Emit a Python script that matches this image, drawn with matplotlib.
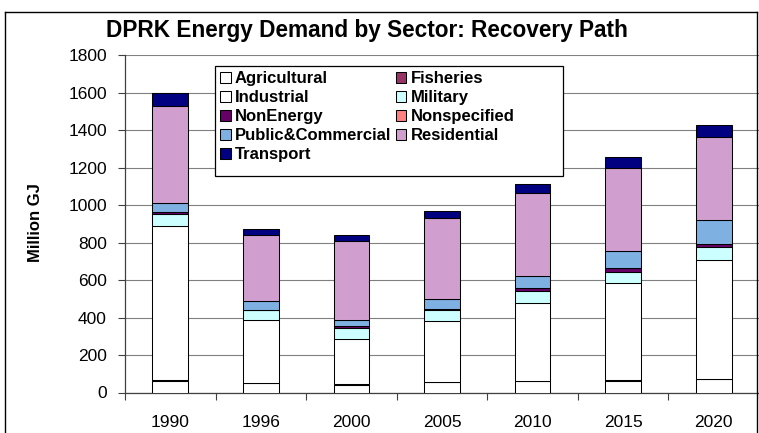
import matplotlib
matplotlib.use("Agg")
import matplotlib.pyplot as plt
from matplotlib.lines import Line2D
from matplotlib.patches import Rectangle
import numpy as np

plt.rcParams['font.family'] = ['Liberation Sans', 'DejaVu Sans']

years = ["1990", "1996", "2000", "2005", "2010", "2015", "2020"]
agricultural = [60, 50, 40, 55, 60, 62, 70]
fisheries = [5, 2, 3, 3, 3, 3, 4]
industrial = [823, 333, 242, 323, 417, 520, 632]
military = [63, 53, 58, 57, 62, 60, 71]
nonenergy = [10, 3, 10, 10, 18, 18, 16]
nonspecified = [0, 0, 0, 0, 0, 0, 0]
public_commercial = [52, 49, 36, 53, 63, 93, 127]
residential = [516, 352, 418, 429, 443, 442, 441]
transport = [70, 32, 31, 36, 44, 56, 64]

series_names = ["Agricultural", "Fisheries", "Industrial", "Military", "NonEnergy",
                "Nonspecified", "Public&Commercial", "Residential", "Transport"]
series_values = [agricultural, fisheries, industrial, military, nonenergy,
                 nonspecified, public_commercial, residential, transport]
colors = ["#FFFFFF", "#993366", "#FFFFFF", "#CCFFFF", "#660066",
          "#FF8080", "#7EB0E2", "#D09FCF", "#000080"]

W, H = 759, 433
fig = plt.figure(figsize=(W / 100, H / 100), dpi=100)
ax = fig.add_axes([125 / W, 1 - 392.5 / H, (759 - 125) / W, (392.5 - 55) / H])

x = np.arange(len(years))
bottom = np.zeros(len(years))
handles = []
for name, vals, c in zip(series_names, series_values, colors):
    v = np.array(vals, dtype=float)
    b = ax.bar(x, v, width=0.395, bottom=bottom, color=c, edgecolor="black",
               linewidth=0.75, label=name, zorder=3)
    handles.append(b)
    bottom += v

ax.set_xlim(-0.5, len(years) - 0.5)
ax.set_ylim(0, 1800)
ax.set_yticks(np.arange(0, 1801, 200))
ax.set_xticks(x)
ax.set_xticklabels(years)
ax.set_xticks(np.arange(-0.5, len(years), 1.0), minor=True)
ax.tick_params(axis="x", which="major", length=0, pad=16, labelsize=12.5)
ax.tick_params(axis="x", which="minor", length=5, width=0.8, color="#404040", direction="out")
ax.tick_params(axis="y", length=5, width=0.8, color="#404040", pad=8, labelsize=12.5)
ax.grid(axis="y", color="#808080", linewidth=0.8, zorder=0)
ax.set_axisbelow(True)
for s in ["top", "right"]:
    ax.spines[s].set_visible(False)
for s in ["left", "bottom"]:
    ax.spines[s].set_color("#404040")
    ax.spines[s].set_linewidth(0.9)

fig.text(367 / W, 1 - 30 / H, "DPRK Energy Demand by Sector: Recovery Path",
         ha="center", va="center", fontsize=16.3, fontweight="bold")
fig.text(36 / W, 1 - 223 / H, "Million GJ", ha="center", va="center",
         rotation=90, fontsize=12, fontweight="bold")

# legend frame (Excel-style box, wider than its content)
fig.add_artist(Rectangle((215 / W, 1 - 176 / H), (563 - 215) / W, (176 - 66) / H,
                         transform=fig.transFigure, facecolor="white",
                         edgecolor="black", linewidth=0.9, zorder=4))

# Excel fills the legend row by row; matplotlib fills column by column
order = [0, 2, 4, 6, 8, 1, 3, 5, 7]
leg = fig.legend(handles=[handles[i] for i in order],
                 labels=[series_names[i] for i in order],
                 ncol=2, loc="upper left",
                 bbox_to_anchor=(215 / W, 1 - 66 / H), borderaxespad=0,
                 frameon=False,
                 prop={"weight": "bold", "size": 12},
                 handlelength=0.65, handleheight=0.65, handletextpad=0.25,
                 columnspacing=0.25, labelspacing=0.24, borderpad=0.3)
leg.set_zorder(5)

# outer chart border
fig.add_artist(Line2D([5 / W, 5 / W], [0, 1 - 12 / H], transform=fig.transFigure,
                      color="black", linewidth=1.0))
fig.add_artist(Line2D([5 / W, 757 / W], [1 - 12 / H, 1 - 12 / H], transform=fig.transFigure,
                      color="black", linewidth=1.0))
fig.add_artist(Line2D([757 / W, 757 / W], [0, 1 - 12 / H], transform=fig.transFigure,
                      color="black", linewidth=1.0))

fig.savefig("out.png", dpi=100)
